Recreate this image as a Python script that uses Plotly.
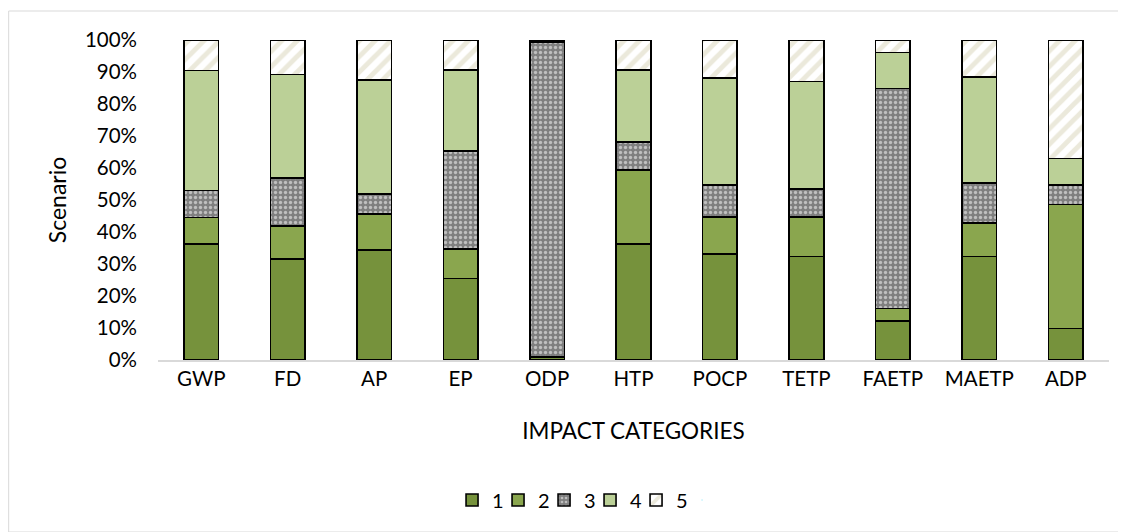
import plotly.graph_objects as go

categories = ["GWP", "FD", "AP", "EP", "ODP", "HTP", "POCP", "TETP", "FAETP", "MAETP", "ADP"]
# cumulative tops (%)
top1 = [36.3, 31.6, 34.4, 25.5, 1.0, 36.3, 33.1, 32.3, 12.1, 32.3, 9.9]
top2 = [44.5, 41.8, 45.7, 34.7, 1.1, 59.4, 44.6, 44.6, 16.1, 42.9, 48.6]
top3 = [53.0, 56.9, 51.9, 65.3, 99.4, 68.1, 54.7, 53.5, 84.9, 55.4, 54.7]
top4 = [90.5, 89.2, 87.5, 90.6, 99.7, 90.6, 88.2, 87.0, 96.1, 88.4, 63.0]
top5 = [100.0] * 11

s1 = top1
s2 = [b - a for a, b in zip(top1, top2)]
s3 = [b - a for a, b in zip(top2, top3)]
s4 = [b - a for a, b in zip(top3, top4)]
s5 = [b - a for a, b in zip(top4, top5)]

FONT = "Lato, 'Open Sans', sans-serif"
line = dict(color="black", width=1.6)

# page body has an 8px margin -> figure origin is at (8, 8) on screen
L, R, T, B = 149.5, 24.5, 32, 180
W, H = 1126, 532
PW, PH = W - L - R, H - T - B

fig = go.Figure()
fig.add_bar(x=categories, y=s1, name="1", marker=dict(color="#76923C", line=line))
fig.add_bar(x=categories, y=s2, name="2", marker=dict(color="#8AA64E", line=line))
fig.add_bar(x=categories, y=s3, name="3",
            marker=dict(color="#7F7F7F", line=line,
                        pattern=dict(shape=".", fgcolor="white", bgcolor="#7F7F7F",
                                     size=5, solidity=0.35)))
fig.add_bar(x=categories, y=s4, name="4", marker=dict(color="#BBD097", line=line))
fig.add_bar(x=categories, y=s5, name="5",
            marker=dict(color="white", line=line,
                        pattern=dict(shape="/", fgcolor="#D8D3B8", bgcolor="white",
                                     size=11, solidity=0.45)))
# invisible spacer entry so the last legend label is not clipped
fig.add_scatter(x=[None], y=[None], mode="markers", name="\u2007",
                marker=dict(opacity=0, size=1), hoverinfo="skip")

fig.update_layout(
    barmode="stack",
    bargap=0.6,
    width=W, height=H,
    margin=dict(l=L, r=R, t=T, b=B, autoexpand=False),
    paper_bgcolor="white", plot_bgcolor="white",
    font=dict(family=FONT, size=20, color="black"),
    showlegend=True,
    legend=dict(orientation="h", x=(559 + 23 - L) / PW, xanchor="center", y=(T + PH - 492) / PH,
                yanchor="middle", font=dict(size=20), itemwidth=30,
                entrywidth=1, entrywidthmode="pixels", traceorder="normal"),
    xaxis=dict(showgrid=False, showline=True, linecolor="#D9D9D9", linewidth=1.5,
               ticks="", tickfont=dict(size=20.5),
               title=dict(text="IMPACT CATEGORIES", font=dict(size=22.5), standoff=34)),
    yaxis=dict(range=[0, 100], tickvals=[0, 10, 20, 30, 40, 50, 60, 70, 80, 90, 100],
               ticktext=[f"{v}%" for v in range(0, 101, 10)],
               showgrid=False, zeroline=False, showline=False, ticks="",
               tickfont=dict(size=20.5), ticklabelstandoff=20,
               title=dict(text="Scenario", font=dict(size=23), standoff=11)),
    shapes=[dict(type="rect", xref="paper", yref="paper",
                 x0=-L / PW, x1=(1118 - L) / PW, y0=(T + PH - 524) / PH, y1=1.0 + (T - 3) / PH,
                 line=dict(color="#D9D9D9", width=1), fillcolor="rgba(0,0,0,0)",
                 layer="below")],
)

fig.write_html("out.html")
